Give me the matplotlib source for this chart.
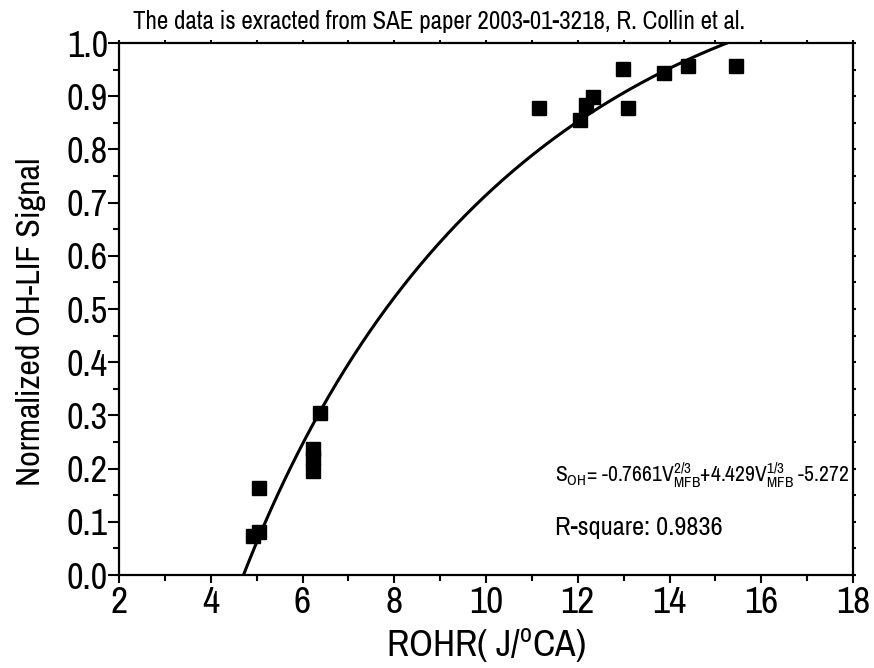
import numpy as np
import matplotlib
matplotlib.use("Agg")
import matplotlib.pyplot as plt
from matplotlib import font_manager
from matplotlib.ticker import MultipleLocator

# Measured points: rate of heat release vs. normalized OH-LIF signal
rohr = [4.93, 5.06, 5.06, 6.23, 6.23, 6.23, 6.37,
        11.16, 12.05, 12.18, 12.33, 12.98, 13.10, 13.89, 14.40, 15.44]
oh_signal = [0.073, 0.080, 0.163, 0.237, 0.220, 0.196, 0.304,
             0.878, 0.855, 0.883, 0.898, 0.951, 0.878, 0.944, 0.957, 0.957]

# Fitted relation S = a*V^(2/3) + b*V^(1/3) + c
fit_a, fit_b, fit_c = -0.7661, 4.429, -5.272
r_square = 0.9836

x_ticks = [2, 4, 6, 8, 10, 12, 14, 16, 18]
y_ticks = [0.0, 0.1, 0.2, 0.3, 0.4, 0.5, 0.6, 0.7, 0.8, 0.9, 1.0]

names = {f.name for f in font_manager.fontManager.ttflist}
font = next((n for n in ["Liberation Sans Narrow", "Archivo Narrow",
                         "Roboto Condensed", "PT Sans Narrow"] if n in names),
            "Liberation Sans")
plt.rcParams["font.family"] = [font, "DejaVu Sans"]
plt.rcParams["mathtext.fontset"] = "custom"
plt.rcParams["mathtext.rm"] = font
plt.rcParams["mathtext.it"] = font
plt.rcParams["mathtext.bf"] = font
plt.rcParams["mathtext.sf"] = font

fig = plt.figure(figsize=(8.74, 6.68), dpi=100)
ax = fig.add_axes([0.1362, 0.1392, 0.976 - 0.1362, 0.9356 - 0.1392])

# fitted curve, starting where it crosses zero
xs = np.linspace(4.5, 18, 600)
ys = fit_a * xs ** (2 / 3) + fit_b * xs ** (1 / 3) + fit_c
ax.plot(xs, ys, color="black", lw=2.2, zorder=2)

ax.plot(rohr, oh_signal, linestyle="none", marker="s", ms=10.5,
        color="black", zorder=3)

ax.set_xlim(2, 18)
ax.set_ylim(0, 1.0)
ax.set_xticks(x_ticks)
ax.set_yticks(y_ticks)
ax.set_xticklabels([str(v) for v in x_ticks])
ax.set_yticklabels([f"{v:.1f}" for v in y_ticks])
ax.xaxis.set_minor_locator(MultipleLocator(1))
ax.yaxis.set_minor_locator(MultipleLocator(0.05))

for s in ax.spines.values():
    s.set_linewidth(1.6)

ax.tick_params(axis="x", which="major", direction="out", length=6, width=1.5,
               labelsize=27, pad=2)
ax.tick_params(axis="x", which="minor", direction="out", length=4.5, width=1.5)
ax.tick_params(axis="y", which="major", direction="out", length=8, width=1.5,
               labelsize=26, pad=0)
ax.tick_params(axis="y", which="minor", direction="out", length=4, width=1.5)
ax.tick_params(which="both", top=True, right=True)
# tiny ticks on top/right
for t in ax.xaxis.get_major_ticks() + ax.xaxis.get_minor_ticks():
    t.tick2line.set_markersize(2)
for t in ax.yaxis.get_major_ticks() + ax.yaxis.get_minor_ticks():
    t.tick2line.set_markersize(2)

ax.set_xlabel(r"ROHR( J/$^{\mathrm{o}}$CA)", fontsize=27, labelpad=5)
ax.set_ylabel("Normalized OH-LIF Signal", fontsize=24.5)
ax.yaxis.set_label_coords(-0.100, 0.476)

fig.text(0.152, 0.968, "The data is exracted from SAE paper 2003-01-3218, R. Collin et al.",
         fontsize=18, ha="left", va="center")

ax.text(0.594, 0.188,
        r"$\mathrm{S_{OH}}$" + f"= {fit_a:.4f}" + r"$\mathrm{V^{2/3}_{MFB}}$"
        + f"+{fit_b:.3f}" + r"$\mathrm{V^{1/3}_{MFB}}$" + f" {fit_c:.3f}",
        transform=ax.transAxes, fontsize=15.5, ha="left", va="center")
ax.text(0.594, 0.09, f"R-square: {r_square:.4f}",
        transform=ax.transAxes, fontsize=19, ha="left", va="center")

fig.savefig("out.png", dpi=100)
